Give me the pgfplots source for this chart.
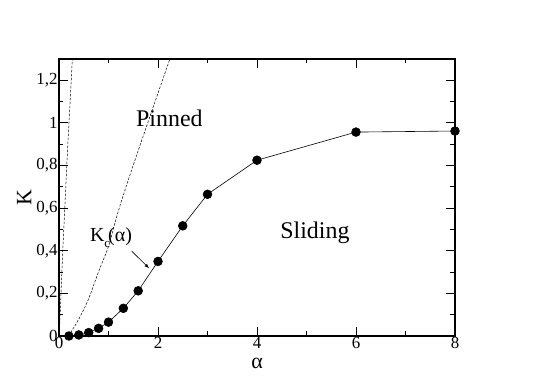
\documentclass[border=0pt]{standalone}
\usepackage{fontspec}
\setmainfont{Liberation Serif}
\usepackage{pgfplots}
\pgfplotsset{compat=1.18}
\begin{document}
\begin{tikzpicture}[x=1bp,y=1bp]
\useasboundingbox (-59bp,-49bp) rectangle (486bp,336bp);
\begin{axis}[
  at={(0,0)}, anchor=south west,
  scale only axis, width=396bp, height=277bp,
  xmin=0, xmax=8, ymin=0, ymax=1.3,
  xtick={0,2,4,6,8}, minor xtick={1,3,5,7},
  ytick={0,0.2,0.4,0.6,0.8,1,1.2}, minor ytick={0.1,0.3,0.5,0.7,0.9,1.1},
  tick align=inside,
  major tick length=9bp, minor tick length=4.5bp,
  every tick/.style={black, line width=0.9pt},
  axis line style={line width=1.1pt},
  /pgf/number format/assume math mode=true,
  /pgf/number format/use comma,
  /pgf/number format/fixed,
  tick label style={font=\fontsize{17}{17}\selectfont},
  xticklabel style={yshift=2bp},
  yticklabel style={xshift=2bp},
  xlabel={α}, ylabel={K},
  label style={font=\fontsize{22}{22}\selectfont},
  xlabel style={yshift=-2bp},
  ylabel style={yshift=-2bp},
  clip=true,
]
\addplot[black, line width=0.5pt, dash pattern=on 2.5bp off 1.5bp] coordinates {
  (0.005,0) (0.04,0.2) (0.08,0.42) (0.17,0.86) (0.27,1.3) (0.29,1.4)};
\addplot[black, line width=0.5pt, dash pattern=on 2.5bp off 1.5bp, smooth] coordinates {
  (0.19,0) (0.39,0.075) (0.59,0.17) (0.79,0.296) (1.0,0.42) (1.13,0.53) (1.27,0.64) (1.6,0.87) (2.24,1.3) (2.4,1.4)};
\addplot[black, line width=0.6pt, mark=*, mark size=4.4bp, mark options={fill=black}] coordinates {
  (0.2,0.0) (0.4,0.005) (0.6,0.016) (0.8,0.036) (1.0,0.065) (1.3,0.13)
  (1.6,0.212) (2.0,0.35) (2.5,0.517) (3.0,0.665) (4.0,0.825) (6.0,0.957) (8.0,0.962)};
\node[font=\fontsize{24}{24}\selectfont] at (axis cs:2.23,1.02) {Pinned};
\node[font=\fontsize{24}{24}\selectfont] at (axis cs:5.17,0.485) {Sliding};
\node[font=\fontsize{20}{20}\selectfont] at (axis cs:1.05,0.46) {K\raisebox{-6bp}{\fontsize{13}{13}\selectfont c}\kern-2bp(α)};
\draw[-{latex}, black, line width=0.6pt] (axis cs:1.47,0.398) -- (axis cs:1.82,0.318);
\end{axis}
\end{tikzpicture}
\end{document}
